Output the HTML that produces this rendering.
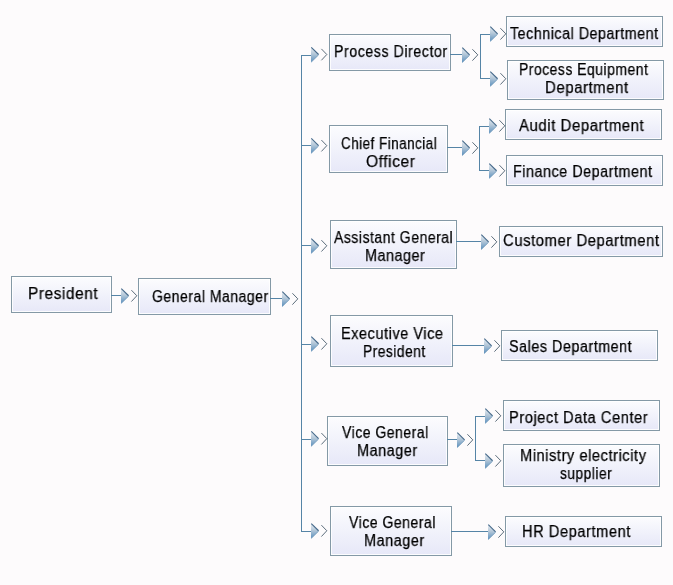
<!DOCTYPE html><html><head><meta charset="utf-8"><style>
*{margin:0;padding:0}
html,body{width:673px;height:585px;overflow:hidden;background:#fdfbfc}
.b{position:absolute;box-sizing:border-box;border:1px solid #8499a6;background:linear-gradient(#fcfcfe 0%,#f1f2fb 50%,#e7e8f8 100%);box-shadow:inset 0 0 0 1px rgba(255,255,255,.85)}
.t{position:absolute;font-family:"Liberation Sans",sans-serif;font-size:16px;line-height:20px;white-space:nowrap;color:#000;transform-origin:0 0;will-change:transform;-webkit-text-stroke:0.25px #000;letter-spacing:0.6px}
svg{position:absolute;left:0;top:0}
</style></head><body>
<div class="b" style="left:11px;top:276px;width:101px;height:37px"></div>
<div class="b" style="left:138px;top:278px;width:133px;height:37px"></div>
<div class="b" style="left:329px;top:34px;width:122px;height:37px"></div>
<div class="b" style="left:329px;top:125px;width:119px;height:48px"></div>
<div class="b" style="left:330px;top:220px;width:127px;height:49px"></div>
<div class="b" style="left:330px;top:315px;width:123px;height:52px"></div>
<div class="b" style="left:327px;top:416px;width:121px;height:50px"></div>
<div class="b" style="left:330px;top:506px;width:122px;height:50px"></div>
<div class="b" style="left:506px;top:16px;width:157px;height:31px"></div>
<div class="b" style="left:507px;top:60px;width:157px;height:40px"></div>
<div class="b" style="left:505px;top:109px;width:157px;height:31px"></div>
<div class="b" style="left:506px;top:155px;width:157px;height:31px"></div>
<div class="b" style="left:499px;top:226px;width:164px;height:31px"></div>
<div class="b" style="left:501px;top:330px;width:157px;height:31px"></div>
<div class="b" style="left:503px;top:400px;width:157px;height:31px"></div>
<div class="b" style="left:503px;top:444px;width:157px;height:43px"></div>
<div class="b" style="left:505px;top:516px;width:157px;height:31px"></div>
<svg width="673" height="585" viewBox="0 0 673 585"><defs><linearGradient id="g" x1="0" y1="0" x2="0" y2="1"><stop offset="0" stop-color="#e8eef4"/><stop offset="0.45" stop-color="#b4c7d8"/><stop offset="1" stop-color="#5a8fbd"/></linearGradient></defs><rect x="111" y="295" width="11" height="1" fill="#5584a6"/><rect x="270" y="298" width="13" height="1" fill="#5584a6"/><rect x="301" y="55" width="1" height="477" fill="#5584a6"/><rect x="301" y="55" width="11" height="1" fill="#5584a6"/><rect x="301" y="145" width="11" height="1" fill="#5584a6"/><rect x="301" y="245" width="11" height="1" fill="#5584a6"/><rect x="301" y="344" width="11" height="1" fill="#5584a6"/><rect x="301" y="439" width="11" height="1" fill="#5584a6"/><rect x="301" y="531" width="11" height="1" fill="#5584a6"/><rect x="450" y="54" width="13" height="1" fill="#5584a6"/><rect x="480" y="34" width="1" height="45" fill="#5584a6"/><rect x="480" y="34" width="11" height="1" fill="#5584a6"/><rect x="480" y="78" width="11" height="1" fill="#5584a6"/><rect x="447" y="147" width="16" height="1" fill="#5584a6"/><rect x="479" y="126" width="1" height="45" fill="#5584a6"/><rect x="479" y="126" width="11" height="1" fill="#5584a6"/><rect x="479" y="170" width="11" height="1" fill="#5584a6"/><rect x="456" y="241" width="26" height="1" fill="#5584a6"/><rect x="452" y="345" width="33" height="1" fill="#5584a6"/><rect x="447" y="439" width="11" height="1" fill="#5584a6"/><rect x="475" y="416" width="1" height="45" fill="#5584a6"/><rect x="475" y="416" width="11" height="1" fill="#5584a6"/><rect x="475" y="460" width="11" height="1" fill="#5584a6"/><rect x="451" y="531" width="38" height="1" fill="#5584a6"/><path d="M121 288.34999999999997L128.8 295.95L121 303.55Z" fill="url(#g)"/><path d="M121.3 288.55L128.6 295.75" stroke="#46698a" stroke-width="1.1" fill="none"/><path d="M121.3 303.34999999999997L128.6 296.15" stroke="#5f8cb2" stroke-width="0.7" fill="none"/><path d="M131.4 290.15L136.8 295.75L131.4 301.55" stroke="#34495a" stroke-width="0.8" fill="none"/><path d="M282 291.45L289.8 299.05L282 306.65000000000003Z" fill="url(#g)"/><path d="M282.3 291.65000000000003L289.6 298.85" stroke="#46698a" stroke-width="1.1" fill="none"/><path d="M282.3 306.45L289.6 299.25" stroke="#5f8cb2" stroke-width="0.7" fill="none"/><path d="M292.4 293.25L297.8 298.85L292.4 304.65000000000003" stroke="#34495a" stroke-width="0.8" fill="none"/><path d="M311 47.1L318.8 54.7L311 62.300000000000004Z" fill="url(#g)"/><path d="M311.3 47.300000000000004L318.6 54.5" stroke="#46698a" stroke-width="1.1" fill="none"/><path d="M311.3 62.1L318.6 54.900000000000006" stroke="#5f8cb2" stroke-width="0.7" fill="none"/><path d="M321.4 48.900000000000006L326.8 54.5L321.4 60.300000000000004" stroke="#34495a" stroke-width="0.8" fill="none"/><path d="M311 138.25L318.8 145.85L311 153.45Z" fill="url(#g)"/><path d="M311.3 138.45L318.6 145.65" stroke="#46698a" stroke-width="1.1" fill="none"/><path d="M311.3 153.25L318.6 146.04999999999998" stroke="#5f8cb2" stroke-width="0.7" fill="none"/><path d="M321.4 140.04999999999998L326.8 145.65L321.4 151.45" stroke="#34495a" stroke-width="0.8" fill="none"/><path d="M311 238.35L318.8 245.95L311 253.54999999999998Z" fill="url(#g)"/><path d="M311.3 238.54999999999998L318.6 245.75" stroke="#46698a" stroke-width="1.1" fill="none"/><path d="M311.3 253.35L318.6 246.14999999999998" stroke="#5f8cb2" stroke-width="0.7" fill="none"/><path d="M321.4 240.14999999999998L326.8 245.75L321.4 251.54999999999998" stroke="#34495a" stroke-width="0.8" fill="none"/><path d="M311 336.34999999999997L318.8 343.95L311 351.55Z" fill="url(#g)"/><path d="M311.3 336.55L318.6 343.75" stroke="#46698a" stroke-width="1.1" fill="none"/><path d="M311.3 351.34999999999997L318.6 344.15" stroke="#5f8cb2" stroke-width="0.7" fill="none"/><path d="M321.4 338.15L326.8 343.75L321.4 349.55" stroke="#34495a" stroke-width="0.8" fill="none"/><path d="M311 431.25L318.8 438.85L311 446.45000000000005Z" fill="url(#g)"/><path d="M311.3 431.45000000000005L318.6 438.65000000000003" stroke="#46698a" stroke-width="1.1" fill="none"/><path d="M311.3 446.25L318.6 439.05" stroke="#5f8cb2" stroke-width="0.7" fill="none"/><path d="M321.4 433.05L326.8 438.65000000000003L321.4 444.45000000000005" stroke="#34495a" stroke-width="0.8" fill="none"/><path d="M311 523.35L318.8 530.95L311 538.5500000000001Z" fill="url(#g)"/><path d="M311.3 523.5500000000001L318.6 530.75" stroke="#46698a" stroke-width="1.1" fill="none"/><path d="M311.3 538.35L318.6 531.1500000000001" stroke="#5f8cb2" stroke-width="0.7" fill="none"/><path d="M321.4 525.1500000000001L326.8 530.75L321.4 536.5500000000001" stroke="#34495a" stroke-width="0.8" fill="none"/><path d="M462 47.449999999999996L469.8 55.05L462 62.65Z" fill="url(#g)"/><path d="M462.3 47.65L469.6 54.849999999999994" stroke="#46698a" stroke-width="1.1" fill="none"/><path d="M462.3 62.449999999999996L469.6 55.25" stroke="#5f8cb2" stroke-width="0.7" fill="none"/><path d="M472.4 49.25L477.8 54.849999999999994L472.4 60.65" stroke="#34495a" stroke-width="0.8" fill="none"/><path d="M490 26.4L497.8 34.0L490 41.6Z" fill="url(#g)"/><path d="M490.3 26.6L497.6 33.8" stroke="#46698a" stroke-width="1.1" fill="none"/><path d="M490.3 41.4L497.6 34.2" stroke="#5f8cb2" stroke-width="0.7" fill="none"/><path d="M500.4 28.2L505.8 33.8L500.4 39.6" stroke="#34495a" stroke-width="0.8" fill="none"/><path d="M490 71.35000000000001L497.8 78.95L490 86.55Z" fill="url(#g)"/><path d="M490.3 71.55L497.6 78.75" stroke="#46698a" stroke-width="1.1" fill="none"/><path d="M490.3 86.35000000000001L497.6 79.15" stroke="#5f8cb2" stroke-width="0.7" fill="none"/><path d="M500.4 73.15L505.8 78.75L500.4 84.55" stroke="#34495a" stroke-width="0.8" fill="none"/><path d="M462 140.45000000000002L469.8 148.05L462 155.65Z" fill="url(#g)"/><path d="M462.3 140.65L469.6 147.85000000000002" stroke="#46698a" stroke-width="1.1" fill="none"/><path d="M462.3 155.45000000000002L469.6 148.25" stroke="#5f8cb2" stroke-width="0.7" fill="none"/><path d="M472.4 142.25L477.8 147.85000000000002L472.4 153.65" stroke="#34495a" stroke-width="0.8" fill="none"/><path d="M489 118.4L496.8 126.0L489 133.6Z" fill="url(#g)"/><path d="M489.3 118.6L496.6 125.8" stroke="#46698a" stroke-width="1.1" fill="none"/><path d="M489.3 133.4L496.6 126.2" stroke="#5f8cb2" stroke-width="0.7" fill="none"/><path d="M499.4 120.2L504.8 125.8L499.4 131.6" stroke="#34495a" stroke-width="0.8" fill="none"/><path d="M489 163.35L496.8 170.95L489 178.54999999999998Z" fill="url(#g)"/><path d="M489.3 163.54999999999998L496.6 170.75" stroke="#46698a" stroke-width="1.1" fill="none"/><path d="M489.3 178.35L496.6 171.14999999999998" stroke="#5f8cb2" stroke-width="0.7" fill="none"/><path d="M499.4 165.14999999999998L504.8 170.75L499.4 176.54999999999998" stroke="#34495a" stroke-width="0.8" fill="none"/><path d="M481 234.45000000000002L488.8 242.05L481 249.65Z" fill="url(#g)"/><path d="M481.3 234.65L488.6 241.85000000000002" stroke="#46698a" stroke-width="1.1" fill="none"/><path d="M481.3 249.45000000000002L488.6 242.25" stroke="#5f8cb2" stroke-width="0.7" fill="none"/><path d="M491.4 236.25L496.8 241.85000000000002L491.4 247.65" stroke="#34495a" stroke-width="0.8" fill="none"/><path d="M484 338.45L491.8 346.05L484 353.65000000000003Z" fill="url(#g)"/><path d="M484.3 338.65000000000003L491.6 345.85" stroke="#46698a" stroke-width="1.1" fill="none"/><path d="M484.3 353.45L491.6 346.25" stroke="#5f8cb2" stroke-width="0.7" fill="none"/><path d="M494.4 340.25L499.8 345.85L494.4 351.65000000000003" stroke="#34495a" stroke-width="0.8" fill="none"/><path d="M457 432.45L464.8 440.05L457 447.65000000000003Z" fill="url(#g)"/><path d="M457.3 432.65000000000003L464.6 439.85" stroke="#46698a" stroke-width="1.1" fill="none"/><path d="M457.3 447.45L464.6 440.25" stroke="#5f8cb2" stroke-width="0.7" fill="none"/><path d="M467.4 434.25L472.8 439.85L467.4 445.65000000000003" stroke="#34495a" stroke-width="0.8" fill="none"/><path d="M485 408.4L492.8 416.0L485 423.6Z" fill="url(#g)"/><path d="M485.3 408.6L492.6 415.8" stroke="#46698a" stroke-width="1.1" fill="none"/><path d="M485.3 423.4L492.6 416.2" stroke="#5f8cb2" stroke-width="0.7" fill="none"/><path d="M495.4 410.2L500.8 415.8L495.4 421.6" stroke="#34495a" stroke-width="0.8" fill="none"/><path d="M485 453.34999999999997L492.8 460.95L485 468.55Z" fill="url(#g)"/><path d="M485.3 453.55L492.6 460.75" stroke="#46698a" stroke-width="1.1" fill="none"/><path d="M485.3 468.34999999999997L492.6 461.15" stroke="#5f8cb2" stroke-width="0.7" fill="none"/><path d="M495.4 455.15L500.8 460.75L495.4 466.55" stroke="#34495a" stroke-width="0.8" fill="none"/><path d="M488 524.4499999999999L495.8 532.05L488 539.65Z" fill="url(#g)"/><path d="M488.3 524.65L495.6 531.8499999999999" stroke="#46698a" stroke-width="1.1" fill="none"/><path d="M488.3 539.4499999999999L495.6 532.25" stroke="#5f8cb2" stroke-width="0.7" fill="none"/><path d="M498.4 526.25L503.8 531.8499999999999L498.4 537.65" stroke="#34495a" stroke-width="0.8" fill="none"/></svg>
<span class="t" style="left:27.50px;top:283.80px;transform:scaleX(0.9610)">President</span>
<span class="t" style="left:151.55px;top:286.50px;transform:scaleX(0.8743)">General Manager</span>
<span class="t" style="left:333.89px;top:41.76px;transform:scaleX(0.8884)">Process Director</span>
<span class="t" style="left:340.51px;top:133.60px;transform:scaleX(0.8372)">Chief Financial</span>
<span class="t" style="left:366.20px;top:151.60px;transform:scaleX(0.9704)">Officer</span>
<span class="t" style="left:333.92px;top:227.76px;transform:scaleX(0.8734)">Assistant General</span>
<span class="t" style="left:364.99px;top:245.76px;transform:scaleX(0.8942)">Manager</span>
<span class="t" style="left:340.97px;top:323.76px;transform:scaleX(0.9069)">Executive Vice</span>
<span class="t" style="left:363.20px;top:341.76px;transform:scaleX(0.8579)">President</span>
<span class="t" style="left:342.46px;top:422.65px;transform:scaleX(0.8730)">Vice General</span>
<span class="t" style="left:357.16px;top:440.65px;transform:scaleX(0.8997)">Manager</span>
<span class="t" style="left:349.39px;top:512.65px;transform:scaleX(0.8748)">Vice General</span>
<span class="t" style="left:364.05px;top:530.65px;transform:scaleX(0.9003)">Manager</span>
<span class="t" style="left:509.92px;top:23.76px;transform:scaleX(0.8910)">Technical Department</span>
<span class="t" style="left:519.19px;top:59.76px;transform:scaleX(0.8682)">Process Equipment</span>
<span class="t" style="left:544.60px;top:77.76px;transform:scaleX(0.9348)">Department</span>
<span class="t" style="left:518.64px;top:115.76px;transform:scaleX(0.9340)">Audit Department</span>
<span class="t" style="left:512.98px;top:161.76px;transform:scaleX(0.8958)">Finance Department</span>
<span class="t" style="left:502.67px;top:230.70px;transform:scaleX(0.9278)">Customer Department</span>
<span class="t" style="left:509.20px;top:336.50px;transform:scaleX(0.8951)">Sales Department</span>
<span class="t" style="left:509.14px;top:407.55px;transform:scaleX(0.9159)">Project Data Center</span>
<span class="t" style="left:520.08px;top:445.76px;transform:scaleX(0.9149)">Ministry electricity</span>
<span class="t" style="left:560.13px;top:463.60px;transform:scaleX(0.8578)">supplier</span>
<span class="t" style="left:522.04px;top:521.76px;transform:scaleX(0.9148)">HR Department</span>
</body></html>
